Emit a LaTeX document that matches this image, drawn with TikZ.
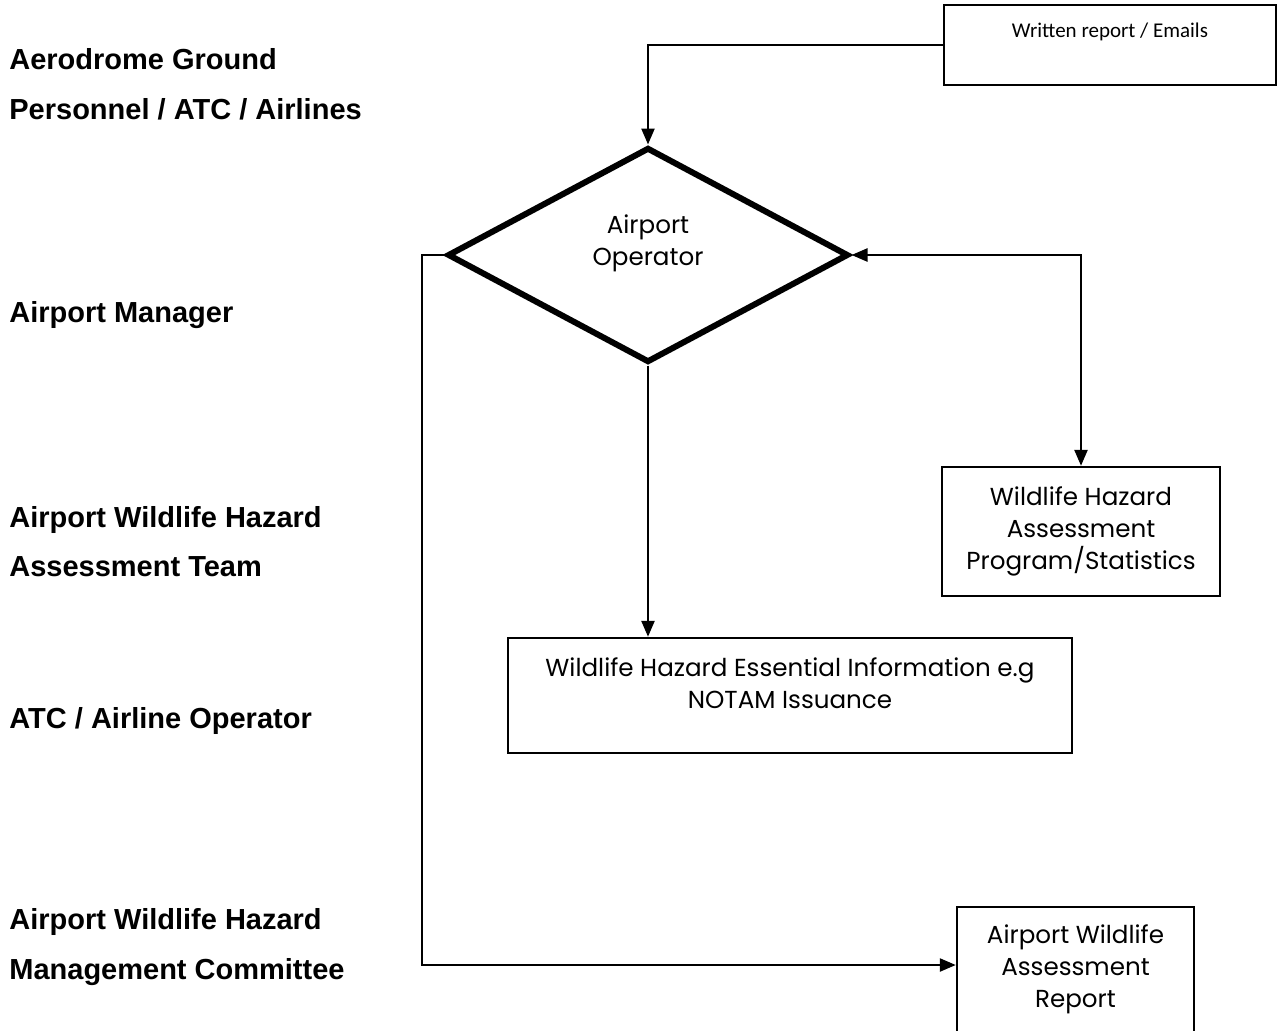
\documentclass[tikz,border=0pt]{standalone}
\usepackage{fontspec}
\setmainfont{Liberation Sans}
\newfontfamily\gothic{Poppins}
\newfontfamily\calibri{Carlito}
\usetikzlibrary{arrows.meta, positioning, shapes.geometric}

\begin{document}
\begin{tikzpicture}[x=0.5pt,y=-0.5pt,>={Triangle[length=8pt,width=6.5pt]},
    role/.style={anchor=base west, inner sep=0pt, font=\fontsize{14.5}{17}\selectfont\bfseries},
    box/.style={draw, rectangle, line width=1.2pt, inner sep=0pt, align=center,
      font=\fontsize{12.3}{16}\selectfont\gothic},
    boxtext/.style={align=center, font=\fontsize{12.3}{16}\selectfont\gothic},
    flow/.style={line width=1.2pt}]

  \useasboundingbox (0,0) rectangle (1282,1030);

  % who is involved, left column
  \node[role] (ground)    at (9,69)  {Aerodrome Ground};
  \node[role] (airlines)  at (9,119) {Personnel / ATC / Airlines};
  \node[role] (manager)   at (9,322) {Airport Manager};
  \node[role] (wildlife)  at (9,527) {Airport Wildlife Hazard};
  \node[role] (team)      at (9,576) {Assessment Team};
  \node[role] (atc)       at (9,728) {ATC / Airline Operator};
  \node[role] (hazard)    at (9,929) {Airport Wildlife Hazard};
  \node[role] (committee) at (9,979) {Management Committee};

  % flow chart
  \node[box, minimum width=166pt, minimum height=40pt,
    label={[font=\fontsize{10.5}{12}\selectfont\calibri, anchor=north, yshift=-6pt]north:Written report / Emails}]
    (src) at (1110,45) {};
  \node[draw, diamond, line width=3pt, inner sep=0pt, minimum width=200.5pt, minimum height=107.5pt,
    label={[boxtext, yshift=6pt]center:Airport\\Operator}]
    (op) at (648,255) {};
  \node[box, minimum width=139pt, minimum height=64.5pt] (stats) at (1081,531.5)
    {Wildlife Hazard\\Assessment\\Program/Statistics};
  \node[box, minimum width=282pt, minimum height=57.5pt,
    label={[boxtext, anchor=north, yshift=-7pt]north:Wildlife Hazard Essential Information e.g\\NOTAM Issuance}]
    (notam) at (790,695.5) {};
  \node[box, minimum width=118.5pt, minimum height=69pt,
    label={[boxtext, anchor=north, yshift=-6pt]north:Airport Wildlife\\Assessment\\Report}]
    (report) at (1075.5,976) {};

  \coordinate (turn) at (422,965);

  \draw[flow,->] (src.west) -| (op.north);
  \draw[flow,->] (op.south) -- (op.south |- notam.north);
  \draw[flow,<->] (op.east) -| (stats.north);
  \draw[flow,->] (op.west) -| (turn) -- (turn -| report.west);
\end{tikzpicture}
\end{document}
